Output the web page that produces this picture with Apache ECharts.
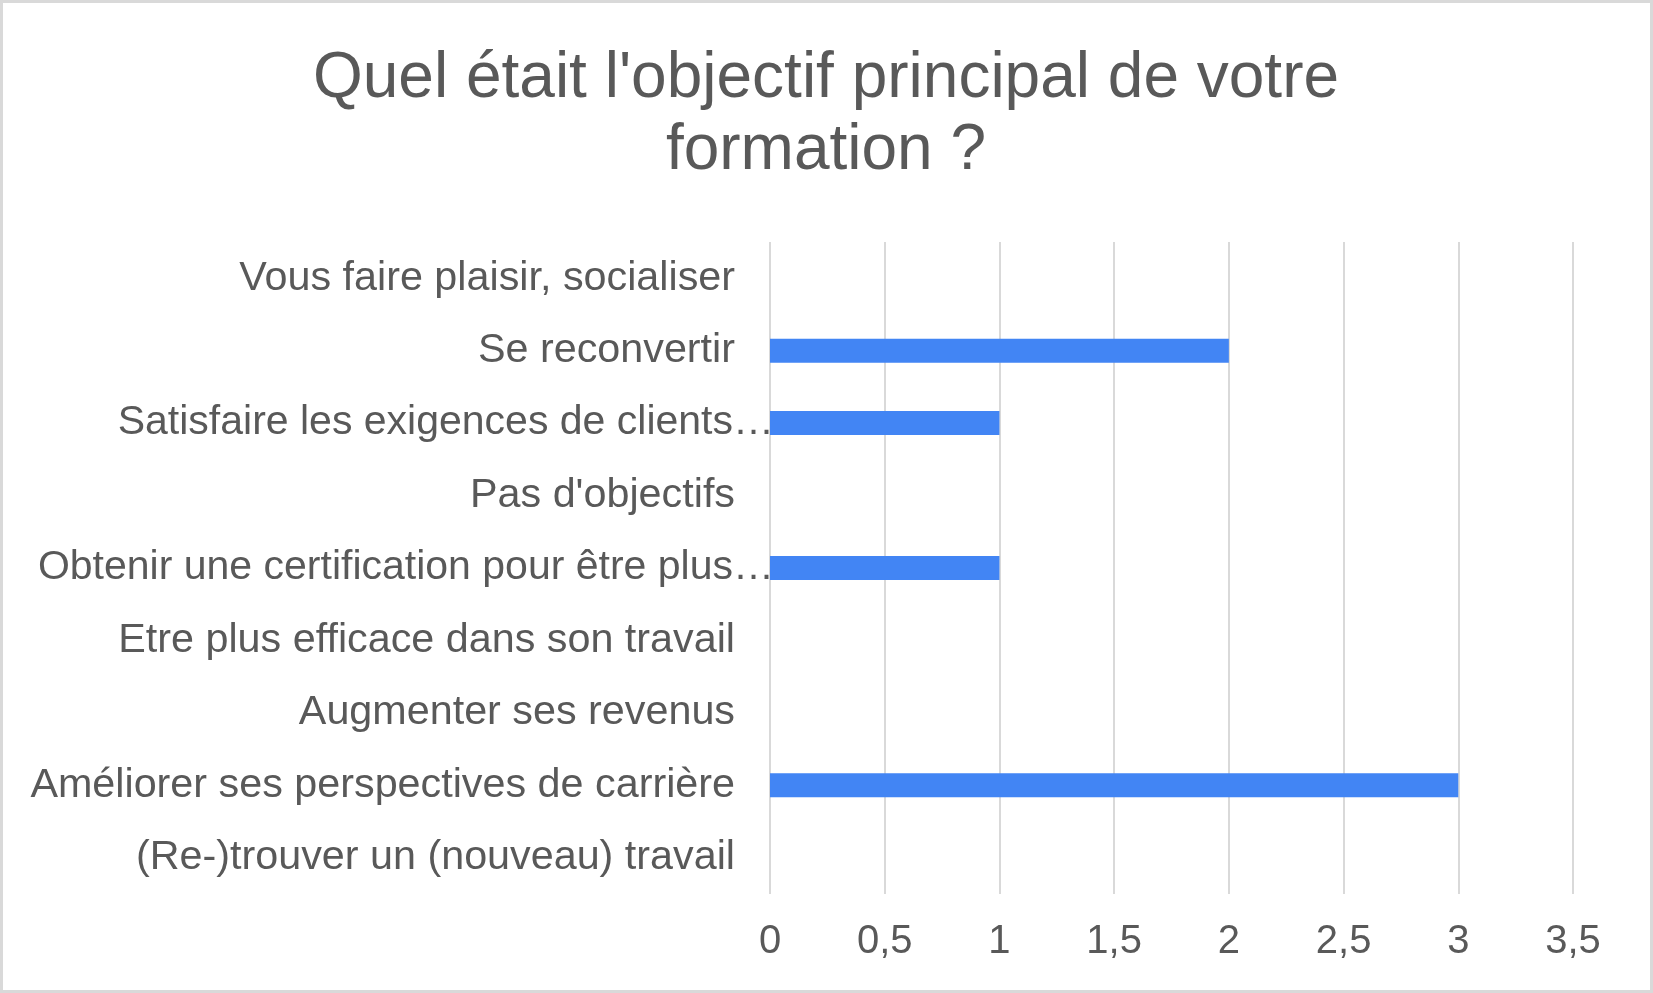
<!DOCTYPE html>
<html>
<head>
<meta charset="utf-8">
<script src="https://cdn.jsdelivr.net/npm/echarts@6/dist/echarts.min.js"></script>
<style>
html,body{margin:0;padding:0;background:#fff;}
#c{width:1653px;height:993px;}
</style>
</head>
<body>
<div id="c"></div>
<script>
// Data (bottom to top order for ECharts category axis)
var categories = [
  "(Re-)trouver un (nouveau) travail",
  "Améliorer ses perspectives de carrière",
  "Augmenter ses revenus",
  "Etre plus efficace dans son travail",
  "Obtenir une certification pour être plus…",
  "Pas d'objectifs",
  "Satisfaire les exigences de clients…",
  "Se reconvertir",
  "Vous faire plaisir, socialiser"
];
var values = [0, 3, 0, 0, 1, 0, 1, 2, 0];
var titleText = "Quel était l'objectif principal de votre\nformation ?";

var font = "'Liberation Sans', Arial, sans-serif";
var chart = echarts.init(document.getElementById('c'));
chart.setOption({
  backgroundColor: '#ffffff',
  animation: false,
  graphic: [{
    type: 'rect',
    shape: {x: 1.5, y: 1.5, width: 1650, height: 990},
    style: {fill: 'none', stroke: '#d9d9d9', lineWidth: 3},
    silent: true
  }],
  title: {
    text: titleText,
    left: 826,
    top: 43,
    textAlign: 'center',
    padding: 0,
    textStyle: {
      fontFamily: font,
      fontSize: 64,
      fontWeight: 'normal',
      color: '#595959',
      lineHeight: 72
    }
  },
  grid: {left: 770, right: 80, top: 242, bottom: 99, containLabel: false},
  xAxis: {
    type: 'value',
    min: 0,
    max: 3.5,
    interval: 0.5,
    axisLine: {show: false},
    axisTick: {show: false},
    splitLine: {show: true, lineStyle: {color: '#d9d9d9', width: 2}},
    axisLabel: {
      margin: 28,
      fontFamily: font,
      fontSize: 40,
      color: '#595959',
      formatter: function (v) { return String(v).replace('.', ','); }
    }
  },
  yAxis: {
    type: 'category',
    data: categories,
    axisLine: {show: false},
    axisTick: {show: false},
    splitLine: {show: false},
    axisLabel: {
      margin: -4,
      fontFamily: font,
      fontSize: 41.3,
      color: '#595959',
      formatter: function (v) {
        return v.slice(-1) === '…' ? '{t|' + v + '}' : '{n|' + v + '}';
      },
      rich: {
        t: {fontFamily: font, fontSize: 41, color: '#595959', padding: [0, 0, 0, 0]},
        n: {fontFamily: font, fontSize: 41.3, color: '#595959', padding: [0, 39, 0, 0]}
      }
    }
  },
  series: [{
    type: 'bar',
    data: values,
    barWidth: 24,
    itemStyle: {color: '#4285f4'},
    z: 3
  }]
});
</script>
</body>
</html>
